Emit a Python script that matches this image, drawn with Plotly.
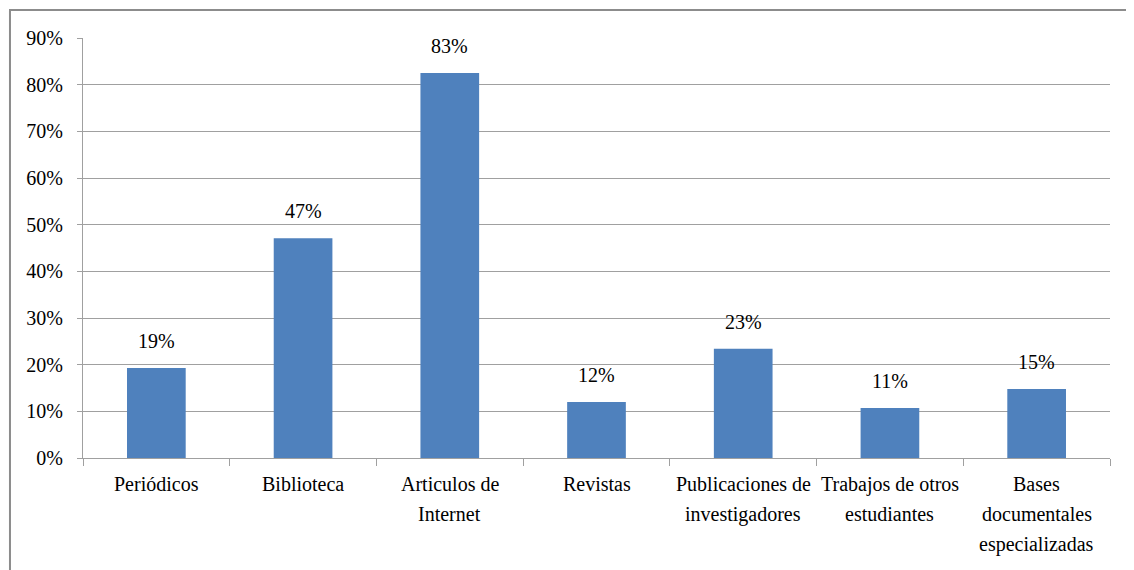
import plotly.graph_objects as go

categorias = ["Periódicos", "Biblioteca", "Articulos de<br>Internet", "Revistas",
              "Publicaciones de<br>investigadores", "Trabajos de otros<br>estudiantes",
              "Bases<br>documentales<br>especializadas"]
valores = [0.193, 0.471, 0.825, 0.120, 0.234, 0.107, 0.148]
etiquetas = ["19%", "47%", "83%", "12%", "23%", "11%", "15%"]
ticks_y = [0, 0.1, 0.2, 0.3, 0.4, 0.5, 0.6, 0.7, 0.8, 0.9]

fuente = "Liberation Serif"
gris = "#a0a0a0"

fig = go.Figure()
fig.add_trace(go.Bar(x=categorias, y=valores, marker=dict(color="#4f81bd", line=dict(width=0)),
                     hoverinfo="skip"))

# etiquetas de datos encima de cada barra
for c, v, t in zip(categorias, valores, etiquetas):
    fig.add_annotation(x=c, y=v, text=t, showarrow=False, yanchor="bottom", yshift=14,
                       font=dict(family=fuente, size=20, color="#000000"))

# etiquetas del eje x, linea por linea para imitar el interlineado
for c in categorias:
    for i, linea in enumerate(c.split("<br>")):
        fig.add_annotation(x=c, y=0, yref="paper", text=linea, showarrow=False,
                           yanchor="middle", yshift=-26 - 30 * i,
                           font=dict(family=fuente, size=20, color="#000000"))

# marco exterior del grafico
fig.add_shape(type="path", xref="paper", yref="paper",
              path="M -0.0711,-0.4 L -0.0711,1.0667 L 1.1,1.0667",
              line=dict(color="#8c8c8c", width=2))

fig.update_layout(
    width=1134, height=570,
    margin=dict(l=75, r=32, t=30, b=120),
    paper_bgcolor="white", plot_bgcolor="white",
    showlegend=False, bargap=0.6,
    font=dict(family=fuente, size=20, color="#000000"),
)
fig.update_xaxes(showticklabels=False, ticks="outside", tickson="boundaries", ticklen=7,
                 tickcolor=gris, showline=True, linecolor=gris, linewidth=1, showgrid=False)
fig.update_yaxes(range=[0, 0.9], tickvals=ticks_y, tickformat=".0%", ticks="outside", ticklen=5,
                 tickcolor=gris, showline=True, linecolor=gris, linewidth=1,
                 showgrid=True, gridcolor=gris, gridwidth=1, zeroline=False,
                 ticklabelstandoff=10)

fig.write_html("out.html")
